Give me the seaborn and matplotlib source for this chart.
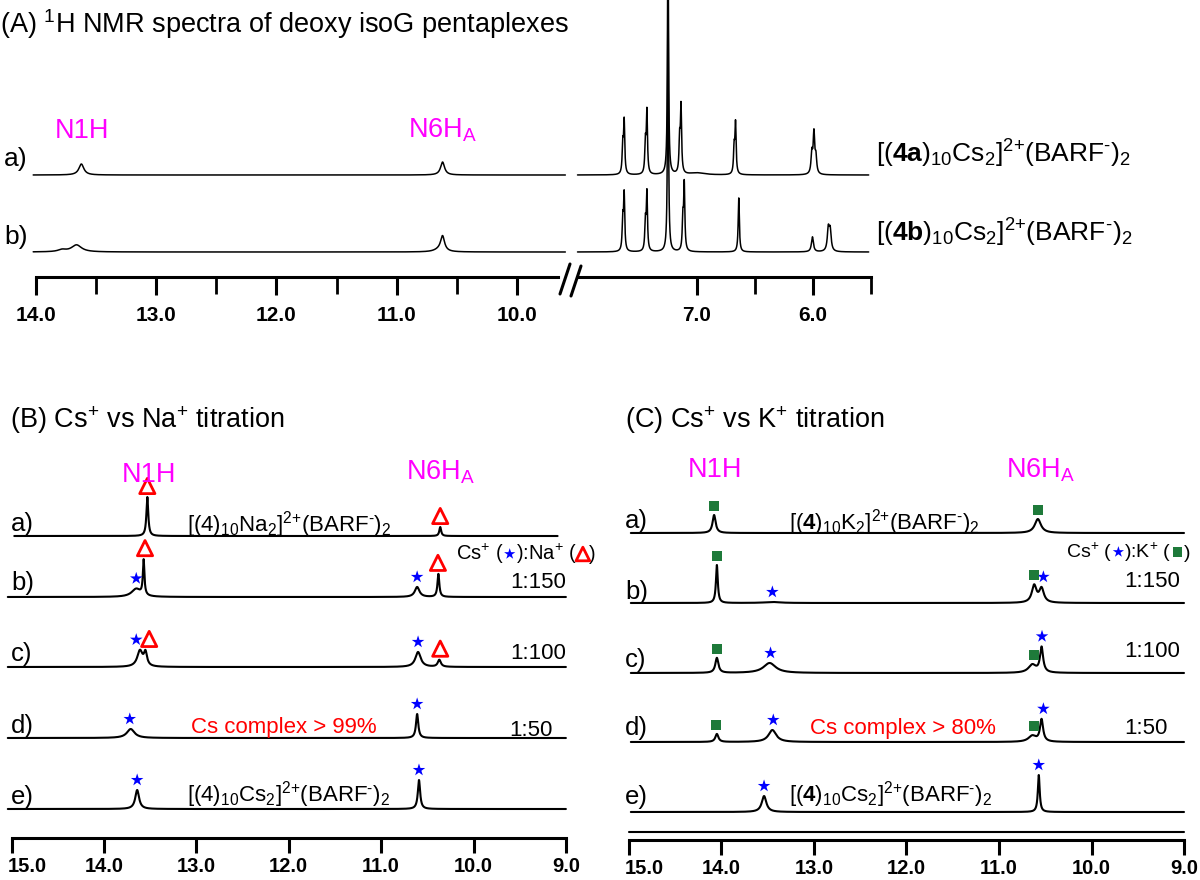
import numpy as np
import matplotlib
matplotlib.use("Agg")
import matplotlib.pyplot as plt
import matplotlib.transforms as mtrans
import seaborn as sns

# ---------------- values ----------------
# every peak: shift (ppm), height (px above its baseline), half width (ppm)

# (A) deoxy isoG pentaplexes
A_rows = ["a)", "b)"]
A_labels = [r"[($\mathbf{4a}$)$_{10}$Cs$_2$]$^{\text{2+}}$(BARF$^{\text{-}}$)$_2$",
            r"[($\mathbf{4b}$)$_{10}$Cs$_2$]$^{\text{2+}}$(BARF$^{\text{-}}$)$_2$"]
A_ppm = [
    [13.62, 10.62, 7.64, 7.628, 7.445, 7.432, 7.25, 7.15, 7.138, 7.0, 6.68, 6.668, 6.01, 5.992, 5.975],
    [13.78, 13.66, 10.65, 10.62, 7.64, 7.628, 7.445, 7.432, 7.25, 7.122, 7.11, 6.64, 6.005, 5.868, 5.852],
]
A_height = [
    [11, 13, 28, 52, 30, 62, 260, 32, 66, 2, 25, 50, 20, 40, 16],
    [2, 7, 2, 15, 30, 56, 28, 58, 260, 30, 66, 54, 15, 22, 20],
]
A_width = [
    [0.025, 0.02, 0.006, 0.006, 0.006, 0.006, 0.005, 0.006, 0.006, 0.08, 0.006, 0.006, 0.008, 0.008, 0.008],
    [0.04, 0.05, 0.05, 0.02, 0.006, 0.006, 0.006, 0.006, 0.005, 0.006, 0.006, 0.006, 0.01, 0.01, 0.01],
]
A_major_left = [14.0, 13.0, 12.0, 11.0, 10.0]
A_minor_left = [13.5, 12.5, 11.5, 10.5]
A_major_right = [7.0, 6.0]
A_minor_right = [6.5, 5.5]

# (B) Cs+ vs Na+ titration
B_rows = ["a)", "b)", "c)", "d)", "e)"]
B_ppm = [[13.53, 10.36],
         [13.65, 13.57, 10.61, 10.38],
         [13.61, 13.55, 10.60, 10.37],
         [13.71, 10.61],
         [13.64, 10.59]]
B_height = [[39, 9], [8, 35, 10, 23], [16, 13, 15, 7], [9, 24], [19, 29]]
B_width = [[0.012, 0.012], [0.06, 0.01, 0.03, 0.012], [0.035, 0.02, 0.035, 0.02],
           [0.05, 0.015], [0.025, 0.015]]
B_star = [[], [13.65, 10.61], [13.65, 10.60], [13.72, 10.61], [13.64, 10.59]]
B_tri = [[13.53, 10.36], [13.555, 10.385], [13.51, 10.36], [], []]
B_ratio = ["", "1:150", "1:100", "1:50", ""]

# (C) Cs+ vs K+ titration
C_rows = ["a)", "b)", "c)", "d)", "e)"]
C_ppm = [[14.08, 10.58],
         [14.05, 13.45, 10.62, 10.54],
         [14.05, 13.48, 10.64, 10.54],
         [14.05, 13.45, 10.64, 10.54],
         [13.54, 10.57]]
C_height = [[18, 14], [38, 1, 17, 14], [15, 10, 8, 25], [8, 12, 6, 22], [16, 37]]
C_width = [[0.02, 0.04], [0.012, 0.1, 0.03, 0.03], [0.02, 0.08, 0.05, 0.02],
           [0.02, 0.05, 0.05, 0.02], [0.03, 0.012]]
C_star = [[], [13.45, 10.52], [13.47, 10.535], [13.44, 10.52], [13.54, 10.57]]
C_square = [[14.08, 10.58], [14.05, 10.62], [14.05, 10.62], [14.06, 10.62], []]
C_ratio = ["", "1:150", "1:100", "1:50", ""]

BC_ticks = [15.0, 14.0, 13.0, 12.0, 11.0, 10.0, 9.0]

# ---------------- style ----------------
sns.set_style("white")
plt.rcParams["font.family"] = ["Liberation Sans", "DejaVu Sans"]
plt.rcParams["mathtext.fontset"] = "custom"
plt.rcParams["mathtext.rm"] = "Liberation Sans"
plt.rcParams["mathtext.it"] = "Liberation Sans:italic"
plt.rcParams["mathtext.bf"] = "Liberation Sans:bold"
plt.rcParams["axes.edgecolor"] = "black"
plt.rcParams["xtick.color"] = "black"
plt.rcParams["text.color"] = "black"

MAGENTA = "#ff00ff"
RED = "#ff0000"
BLUE = "#0000ff"
GREEN = "#1e7a3a"

W, H = 1200, 880
fig = plt.figure(figsize=(12, 8.8), dpi=100)

# overlay in pixel coordinates for all the text
ov = fig.add_axes([0, 0, 1, 1])
ov.set_xlim(0, W)
ov.set_ylim(H, 0)
ov.set_autoscale_on(False)
ov.axis("off")
ov.set_zorder(10)


def lorentz(grid, ppm, height, width):
    p = np.asarray(ppm, float)[:, None]
    h = np.asarray(height, float)[:, None]
    w = np.asarray(width, float)[:, None]
    return (h * w ** 2 / ((grid[None, :] - p) ** 2 + w ** 2)).sum(axis=0)


def make_axes(x0, x1, y0, y1):
    ax = fig.add_axes([x0 / W, 1 - y1 / H, (x1 - x0) / W, (y1 - y0) / H])
    ax.patch.set_alpha(0)
    return ax


def finish_axes(ax, box, ref_ppm, ref_px, scale, axis_y, bounds, major, minor,
                major_len, minor_len, pad, size=15, first_left=False):
    x0, x1, y0, y1 = box
    ax.set_xlim(ref_ppm - (x0 - ref_px) / scale, ref_ppm - (x1 - ref_px) / scale)
    ax.set_ylim(y1, y0)
    for s in ["top", "left", "right"]:
        ax.spines[s].set_visible(False)
    sp = ax.spines["bottom"]
    sp.set_position(("data", axis_y))
    sp.set_bounds(*bounds)
    sp.set_linewidth(2.2)
    ax.set_yticks([])
    ax.set_xticks(major, [f"{t:.1f}" for t in major], fontweight="bold", fontsize=size)
    ax.set_xticks(minor, minor=True)
    ax.tick_params(axis="x", which="major", bottom=True, direction="out",
                   length=major_len, width=2.2, pad=pad)
    ax.tick_params(axis="x", which="minor", bottom=True, direction="out",
                   length=minor_len, width=2.0)
    if first_left:
        lbl = ax.get_xticklabels()[0]
        lbl.set_horizontalalignment("left")
        lbl.set_transform(lbl.get_transform() +
                          mtrans.ScaledTranslation(-4 / 100, 0, fig.dpi_scale_trans))
    ax.set_xlabel("")
    ax.set_ylabel("")


def draw_trace(ax, lo, hi, base, ppm, height, width, lw, n=6000):
    grid = np.linspace(lo, hi, n)
    y = base - lorentz(grid, ppm, height, width)
    sns.lineplot(x=grid, y=y, ax=ax, color="black", linewidth=lw,
                 estimator=None, sort=False, legend=False)
    return grid, y


def peak_top(grid, y, ppm, win=0.04):
    m = np.abs(grid - ppm) < win
    return y[m].min()


def scatter_kind(ax, xs, ys, kind, big=True):
    k = 1.0 if big else 0.8
    if kind == "star":
        sns.scatterplot(x=xs, y=ys, ax=ax, marker="*", s=90 * k, color=BLUE,
                        edgecolor="none", legend=False, zorder=5)
    elif kind == "tri":
        sns.scatterplot(x=xs, y=ys, ax=ax, marker="^", s=120 * k, facecolor="none",
                        edgecolor=RED, linewidth=2.0, legend=False, zorder=5)
    else:
        sns.scatterplot(x=xs, y=ys, ax=ax, marker="s", s=55 * k, color=GREEN,
                        edgecolor="none", legend=False, zorder=5)


def put_markers(ax, grid, y, shifts, kind, gap=10):
    if not shifts:
        return
    ys = [peak_top(grid, y, s) - gap for s in shifts]
    scatter_kind(ax, shifts, ys, kind)


def txt(x, y, s, size, color="black", ha="left", weight="normal"):
    return ov.text(x, y, s, fontsize=size, color=color, ha=ha, va="baseline",
                   fontweight=weight)


def key_row(x, y, parts, size):
    # parts: strings are text, tuples are markers
    r = fig.canvas.get_renderer()
    for part in parts:
        if isinstance(part, str):
            t = txt(x, y, part, size)
            x = t.get_window_extent(r).x1
        else:
            scatter_kind(ov, [x + 6], [y - 6], part[0], big=False)
            x += 12


# ---------------- panel A ----------------
A_base = [175, 252]
boxL = (30, 568, 0, 330)
boxR = (575, 880, 0, 330)
axL = make_axes(*boxL)
axR = make_axes(*boxR)
for i in range(2):
    draw_trace(axL, 14.02, 9.60, A_base[i], A_ppm[i], A_height[i], A_width[i], 1.1)
    draw_trace(axR, 8.03, 5.52, A_base[i], A_ppm[i], A_height[i], A_width[i], 1.1, n=12000)
finish_axes(axL, boxL, 14.0, 35.6, 120.4, 277, (14.0, 9.66), A_major_left, A_minor_left, 13, 12, 8)
finish_axes(axR, boxR, 7.0, 697, 116, 277, (8.03, 5.5), A_major_right, A_minor_right, 13, 12, 8)
# axis break
ov.plot([560, 570], [294, 264], color="black", lw=2.2)
ov.plot([571, 581], [296, 266], color="black", lw=2.2)

txt(0, 33, r"(A) $^{1}$H NMR spectra of deoxy isoG pentaplexes", 19.5)
txt(55, 138, "N1H", 19.5, MAGENTA)
txt(408, 138, r"N6H$_{\mathrm{A}}$", 19.5, MAGENTA)
for i, yb in enumerate([166, 244]):
    txt(4, yb, A_rows[i], 19)
    txt(876, [163, 242][i], A_labels[i], 19)

# ---------------- panel B ----------------
B_base = [536, 597, 667, 738, 809]
boxB = (5, 572, 440, 880)
axB = make_axes(*boxB)
for i in range(5):
    lo, hi = (14.97, 9.09) if i == 0 else (15.04, 9.0)
    g, y = draw_trace(axB, lo, hi, B_base[i], B_ppm[i], B_height[i], B_width[i], 1.5)
    put_markers(axB, g, y, B_star[i], "star")
    put_markers(axB, g, y, B_tri[i], "tri", gap=11)
finish_axes(axB, boxB, 15.0, 11.5, 92.4, 838, (15.0, 9.0), BC_ticks, [], 11, 0, 3,
            size=14.5, first_left=True)

txt(10, 428, r"(B) Cs$^{+}$ vs Na$^{+}$ titration", 19.5)
txt(122, 482, "N1H", 19.5, MAGENTA)
txt(406, 480, r"N6H$_{\mathrm{A}}$", 19.5, MAGENTA)
for i, yb in enumerate([531, 590, 661, 733, 804]):
    txt(11, yb, B_rows[i], 18.5)
txt(187, 532, r"[(4)$_{10}$Na$_2$]$^{\text{2+}}$(BARF$^{\text{-}}$)$_2$", 16)
txt(187, 801, r"[(4)$_{10}$Cs$_2$]$^{\text{2+}}$(BARF$^{\text{-}}$)$_2$", 16)
txt(191, 733, "Cs complex > 99%", 16, RED)
key_row(456, 560, [r"Cs$^{+}$ (", ("star",), r"):Na$^{+}$ (", ("tri",), ")"], 14.5)
for yb, s, xr in zip([588, 659, 736], B_ratio[1:4], [566, 566, 553]):
    txt(xr, yb, s, 16, ha="right")

# ---------------- panel C ----------------
C_base = [533, 603, 673, 742, 812]
boxC = (622, 1195, 440, 880)
axC = make_axes(*boxC)
for i in range(5):
    g, y = draw_trace(axC, 14.98, 9.0, C_base[i], C_ppm[i], C_height[i], C_width[i], 1.5)
    put_markers(axC, g, y, C_star[i], "star")
    put_markers(axC, g, y, C_square[i], "square", gap=9)
axC.plot([15.0, 9.0], [832, 832], color="black", lw=1.5)
finish_axes(axC, boxC, 15.0, 629, 92.5, 840, (15.0, 9.0), BC_ticks, [], 11, 0, 3,
            size=14.5, first_left=True)

txt(625, 428, r"(C) Cs$^{+}$ vs K$^{+}$ titration", 19.5)
txt(688, 477, "N1H", 19.5, MAGENTA)
txt(1006, 477, r"N6H$_{\mathrm{A}}$", 19.5, MAGENTA)
for i, yb in enumerate([528, 599, 667, 735, 804]):
    txt(625, yb, C_rows[i], 18.5)
txt(789, 530, r"[($\mathbf{4}$)$_{10}$K$_2$]$^{\text{2+}}$(BARF$^{\text{-}}$)$_2$", 16)
txt(789, 802, r"[($\mathbf{4}$)$_{10}$Cs$_2$]$^{\text{2+}}$(BARF$^{\text{-}}$)$_2$", 16)
txt(810, 734, "Cs complex > 80%", 16, RED)
key_row(1066, 558, [r"Cs$^{+}$ (", ("star",), r"):K$^{+}$ (", ("square",), ")"], 14)
for yb, s, xr in zip([587, 657, 734], C_ratio[1:4], [1180, 1180, 1168]):
    txt(xr, yb, s, 16, ha="right")

fig.savefig("out.png", dpi=100)
